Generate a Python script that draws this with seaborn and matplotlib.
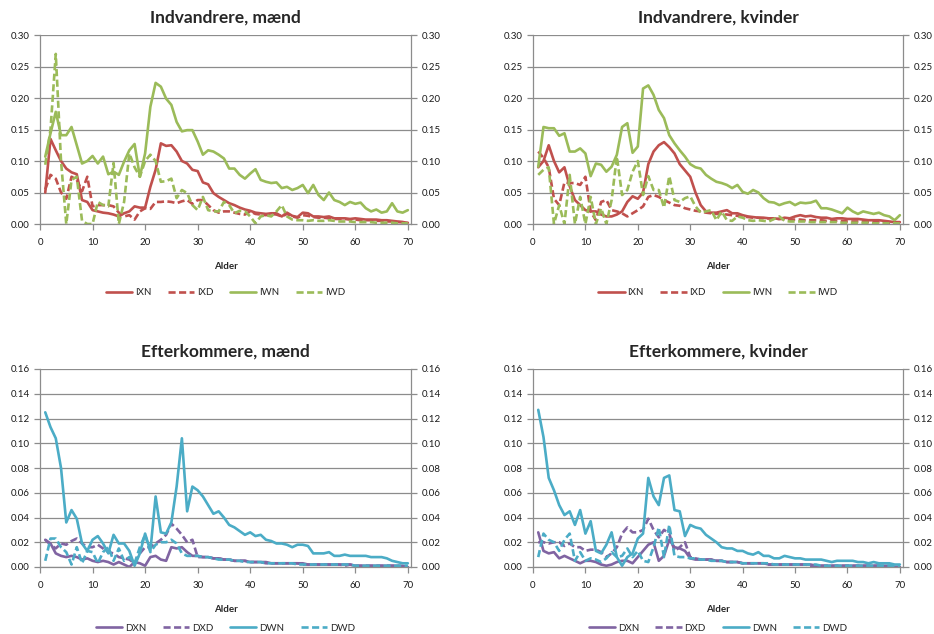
import numpy as np
import pandas as pd
import matplotlib
matplotlib.use("Agg")
import matplotlib.pyplot as plt
import seaborn as sns

# alder 1-70
ages = np.arange(1, 71)

# Indvandrere, maend
ixn_m = [0.050, 0.135, 0.117, 0.100, 0.088, 0.082, 0.079, 0.038, 0.035, 0.022,
         0.020, 0.018, 0.017, 0.015, 0.012, 0.017, 0.020, 0.028, 0.026, 0.026,
         0.059, 0.086, 0.128, 0.124, 0.125, 0.115, 0.100, 0.096, 0.086, 0.084,
         0.066, 0.063, 0.049, 0.043, 0.038, 0.033, 0.030, 0.026, 0.023, 0.021,
         0.018, 0.017, 0.016, 0.017, 0.017, 0.012, 0.018, 0.013, 0.011, 0.018,
         0.017, 0.012, 0.012, 0.011, 0.012, 0.009, 0.009, 0.009, 0.008, 0.009,
         0.008, 0.007, 0.007, 0.007, 0.006, 0.006, 0.005, 0.004, 0.003, 0.002]
ixd_m = [0.055, 0.078, 0.072, 0.050, 0.040, 0.075, 0.070, 0.052, 0.075, 0.028,
         0.030, 0.030, 0.030, 0.028, 0.018, 0.012, 0.014, 0.007, 0.020, 0.025,
         0.024, 0.035, 0.035, 0.036, 0.035, 0.033, 0.036, 0.038, 0.032, 0.038,
         0.038, 0.030, 0.022, 0.018, 0.020, 0.020, 0.018, 0.016, 0.015, 0.020,
         0.016, 0.015, 0.014, 0.016, 0.015, 0.012, 0.016, 0.012, 0.010, 0.014,
         0.013, 0.011, 0.010, 0.010, 0.009, 0.008, 0.008, 0.008, 0.007, 0.007,
         0.006, 0.006, 0.006, 0.005, 0.005, 0.004, 0.004, 0.003, 0.003, 0.002]
iwn_m = [0.107, 0.144, 0.178, 0.141, 0.141, 0.154, 0.125, 0.096, 0.100, 0.108,
         0.096, 0.107, 0.079, 0.083, 0.078, 0.099, 0.117, 0.127, 0.075, 0.112,
         0.186, 0.224, 0.218, 0.199, 0.189, 0.162, 0.147, 0.149, 0.149, 0.131,
         0.110, 0.117, 0.115, 0.110, 0.104, 0.088, 0.088, 0.078, 0.072, 0.080,
         0.087, 0.070, 0.067, 0.065, 0.066, 0.057, 0.059, 0.054, 0.057, 0.062,
         0.049, 0.062, 0.046, 0.038, 0.050, 0.038, 0.035, 0.030, 0.035, 0.032,
         0.034, 0.025, 0.020, 0.023, 0.018, 0.020, 0.033, 0.020, 0.018, 0.022]
iwd_m = [0.094, 0.150, 0.270, 0.100, 0.000, 0.070, 0.075, 0.005, 0.000, 0.000,
         0.035, 0.030, 0.028, 0.097, 0.000, 0.035, 0.112, 0.090, 0.075, 0.100,
         0.110, 0.100, 0.067, 0.068, 0.072, 0.041, 0.054, 0.049, 0.030, 0.022,
         0.043, 0.022, 0.020, 0.020, 0.035, 0.030, 0.017, 0.021, 0.020, 0.012,
         0.001, 0.012, 0.014, 0.012, 0.020, 0.030, 0.012, 0.007, 0.006, 0.006,
         0.005, 0.006, 0.005, 0.005, 0.006, 0.005, 0.004, 0.004, 0.004, 0.003,
         0.003, 0.003, 0.003, 0.002, 0.002, 0.002, 0.002, 0.001, 0.001, 0.001]

# Indvandrere, kvinder
ixn_k = [0.090, 0.100, 0.125, 0.100, 0.082, 0.090, 0.060, 0.038, 0.030, 0.022,
         0.020, 0.020, 0.015, 0.012, 0.012, 0.015, 0.020, 0.035, 0.044, 0.040,
         0.050, 0.095, 0.115, 0.125, 0.130, 0.122, 0.112, 0.095, 0.085, 0.075,
         0.050, 0.030, 0.020, 0.018, 0.018, 0.020, 0.022, 0.017, 0.017, 0.014,
         0.012, 0.011, 0.010, 0.010, 0.009, 0.009, 0.008, 0.010, 0.009, 0.012,
         0.014, 0.012, 0.013, 0.011, 0.010, 0.010, 0.008, 0.009, 0.009, 0.008,
         0.008, 0.008, 0.007, 0.006, 0.006, 0.006, 0.005, 0.004, 0.003, 0.003]
ixd_k = [0.115, 0.105, 0.090, 0.040, 0.030, 0.066, 0.065, 0.065, 0.062, 0.075,
         0.020, 0.006, 0.035, 0.038, 0.022, 0.020, 0.017, 0.012, 0.017, 0.022,
         0.028, 0.043, 0.046, 0.043, 0.038, 0.034, 0.030, 0.029, 0.025, 0.023,
         0.021, 0.020, 0.018, 0.017, 0.016, 0.016, 0.015, 0.014, 0.013, 0.012,
         0.011, 0.010, 0.010, 0.009, 0.009, 0.008, 0.008, 0.008, 0.007, 0.007,
         0.007, 0.006, 0.006, 0.006, 0.006, 0.005, 0.005, 0.005, 0.005, 0.004,
         0.004, 0.004, 0.004, 0.003, 0.003, 0.003, 0.003, 0.002, 0.002, 0.002]
iwn_k = [0.091, 0.154, 0.152, 0.152, 0.140, 0.144, 0.115, 0.115, 0.120, 0.112,
         0.076, 0.096, 0.094, 0.083, 0.091, 0.110, 0.154, 0.160, 0.113, 0.123,
         0.215, 0.220, 0.205, 0.181, 0.168, 0.141, 0.128, 0.117, 0.107, 0.095,
         0.090, 0.088, 0.078, 0.072, 0.067, 0.065, 0.062, 0.057, 0.062, 0.051,
         0.048, 0.054, 0.050, 0.041, 0.035, 0.034, 0.030, 0.033, 0.035, 0.030,
         0.034, 0.033, 0.034, 0.037, 0.025, 0.025, 0.023, 0.020, 0.017, 0.026,
         0.020, 0.016, 0.020, 0.018, 0.016, 0.018, 0.014, 0.012, 0.006, 0.014]
iwd_k = [0.078, 0.086, 0.090, 0.000, 0.030, 0.000, 0.078, 0.000, 0.043, 0.000,
         0.043, 0.000, 0.025, 0.000, 0.038, 0.107, 0.046, 0.054, 0.083, 0.100,
         0.046, 0.076, 0.054, 0.054, 0.026, 0.076, 0.038, 0.035, 0.041, 0.044,
         0.028, 0.018, 0.020, 0.022, 0.006, 0.020, 0.006, 0.005, 0.012, 0.010,
         0.006, 0.005, 0.006, 0.005, 0.004, 0.008, 0.012, 0.005, 0.004, 0.004,
         0.004, 0.004, 0.003, 0.003, 0.003, 0.003, 0.003, 0.003, 0.002, 0.002,
         0.002, 0.002, 0.002, 0.002, 0.001, 0.001, 0.001, 0.001, 0.001, 0.001]

# Efterkommere, maend
dxn_m = [0.022, 0.019, 0.011, 0.009, 0.008, 0.009, 0.008, 0.006, 0.007, 0.005,
         0.004, 0.005, 0.004, 0.002, 0.004, 0.002, 0.000, 0.004, 0.003, 0.001,
         0.008, 0.009, 0.006, 0.005, 0.016, 0.015, 0.016, 0.012, 0.009, 0.009,
         0.008, 0.008, 0.007, 0.007, 0.006, 0.006, 0.005, 0.005, 0.005, 0.004,
         0.004, 0.004, 0.004, 0.003, 0.003, 0.003, 0.003, 0.003, 0.003, 0.003,
         0.002, 0.002, 0.002, 0.002, 0.002, 0.002, 0.002, 0.002, 0.002, 0.001,
         0.001, 0.001, 0.001, 0.001, 0.001, 0.001, 0.001, 0.001, 0.001, 0.000]
dxd_m = [0.022, 0.018, 0.015, 0.019, 0.018, 0.021, 0.023, 0.019, 0.016, 0.016,
         0.018, 0.015, 0.012, 0.011, 0.008, 0.007, 0.006, 0.003, 0.011, 0.016,
         0.016, 0.019, 0.022, 0.026, 0.035, 0.031, 0.026, 0.020, 0.022, 0.008,
         0.008, 0.008, 0.007, 0.007, 0.006, 0.006, 0.005, 0.005, 0.005, 0.004,
         0.004, 0.004, 0.003, 0.003, 0.003, 0.003, 0.003, 0.003, 0.003, 0.002,
         0.002, 0.002, 0.002, 0.002, 0.002, 0.002, 0.002, 0.001, 0.002, 0.001,
         0.001, 0.001, 0.001, 0.001, 0.001, 0.001, 0.001, 0.001, 0.000, 0.000]
dwn_m = [0.125, 0.113, 0.104, 0.080, 0.036, 0.046, 0.039, 0.019, 0.013, 0.022,
         0.025, 0.019, 0.011, 0.026, 0.019, 0.019, 0.013, 0.001, 0.011, 0.027,
         0.013, 0.057, 0.028, 0.027, 0.036, 0.065, 0.104, 0.045, 0.065, 0.062,
         0.057, 0.050, 0.043, 0.045, 0.040, 0.034, 0.032, 0.029, 0.026, 0.028,
         0.025, 0.026, 0.022, 0.021, 0.019, 0.019, 0.018, 0.016, 0.018, 0.018,
         0.017, 0.011, 0.011, 0.011, 0.012, 0.009, 0.009, 0.010, 0.009, 0.009,
         0.009, 0.009, 0.008, 0.008, 0.008, 0.007, 0.005, 0.004, 0.003, 0.003]
dwd_m = [0.005, 0.023, 0.023, 0.016, 0.012, 0.002, 0.016, 0.003, 0.013, 0.012,
         0.003, 0.012, 0.016, 0.005, 0.015, 0.005, 0.008, 0.003, 0.016, 0.026,
         0.012, 0.018, 0.020, 0.020, 0.022, 0.019, 0.011, 0.009, 0.009, 0.009,
         0.008, 0.008, 0.007, 0.006, 0.006, 0.006, 0.005, 0.005, 0.004, 0.004,
         0.004, 0.004, 0.003, 0.003, 0.003, 0.003, 0.003, 0.003, 0.002, 0.002,
         0.002, 0.002, 0.002, 0.002, 0.002, 0.002, 0.002, 0.002, 0.002, 0.001,
         0.001, 0.001, 0.001, 0.001, 0.001, 0.001, 0.001, 0.001, 0.001, 0.001]

# Efterkommere, kvinder
dxn_k = [0.028, 0.013, 0.011, 0.012, 0.007, 0.009, 0.007, 0.005, 0.003, 0.005,
         0.005, 0.004, 0.002, 0.001, 0.002, 0.004, 0.005, 0.005, 0.003, 0.008,
         0.013, 0.018, 0.020, 0.005, 0.009, 0.022, 0.016, 0.015, 0.013, 0.007,
         0.006, 0.006, 0.006, 0.006, 0.005, 0.005, 0.004, 0.004, 0.004, 0.003,
         0.003, 0.003, 0.003, 0.003, 0.002, 0.002, 0.002, 0.002, 0.002, 0.002,
         0.002, 0.002, 0.002, 0.001, 0.001, 0.001, 0.001, 0.001, 0.001, 0.001,
         0.001, 0.001, 0.001, 0.001, 0.001, 0.001, 0.001, 0.001, 0.000, 0.000]
dxd_k = [0.020, 0.020, 0.019, 0.020, 0.020, 0.017, 0.019, 0.016, 0.016, 0.013,
         0.014, 0.014, 0.012, 0.008, 0.011, 0.016, 0.027, 0.032, 0.028, 0.028,
         0.030, 0.039, 0.030, 0.024, 0.030, 0.027, 0.013, 0.016, 0.020, 0.008,
         0.007, 0.006, 0.006, 0.006, 0.005, 0.005, 0.004, 0.004, 0.004, 0.003,
         0.003, 0.003, 0.003, 0.003, 0.002, 0.002, 0.002, 0.002, 0.002, 0.002,
         0.002, 0.002, 0.001, 0.001, 0.001, 0.001, 0.001, 0.001, 0.001, 0.001,
         0.001, 0.001, 0.001, 0.001, 0.001, 0.001, 0.000, 0.000, 0.000, 0.000]
dwn_k = [0.127, 0.105, 0.072, 0.062, 0.050, 0.042, 0.045, 0.034, 0.046, 0.027,
         0.037, 0.013, 0.011, 0.018, 0.028, 0.008, 0.001, 0.008, 0.011, 0.023,
         0.027, 0.072, 0.057, 0.050, 0.072, 0.074, 0.046, 0.045, 0.025, 0.034,
         0.032, 0.031, 0.026, 0.023, 0.020, 0.016, 0.015, 0.015, 0.013, 0.013,
         0.011, 0.010, 0.012, 0.009, 0.009, 0.007, 0.007, 0.009, 0.008, 0.007,
         0.007, 0.006, 0.006, 0.006, 0.006, 0.005, 0.004, 0.005, 0.005, 0.005,
         0.005, 0.004, 0.004, 0.003, 0.004, 0.003, 0.003, 0.003, 0.002, 0.002]
dwd_k = [0.008, 0.027, 0.022, 0.020, 0.013, 0.022, 0.027, 0.005, 0.012, 0.005,
         0.007, 0.006, 0.004, 0.007, 0.012, 0.008, 0.009, 0.015, 0.008, 0.013,
         0.005, 0.004, 0.016, 0.032, 0.008, 0.034, 0.009, 0.008, 0.008, 0.007,
         0.007, 0.006, 0.006, 0.005, 0.005, 0.005, 0.004, 0.004, 0.004, 0.003,
         0.003, 0.003, 0.003, 0.003, 0.003, 0.002, 0.002, 0.002, 0.002, 0.002,
         0.002, 0.002, 0.002, 0.002, 0.001, 0.001, 0.001, 0.001, 0.001, 0.001,
         0.001, 0.001, 0.001, 0.001, 0.001, 0.001, 0.001, 0.001, 0.001, 0.001]

titles = ["Indvandrere, mænd", "Indvandrere, kvinder",
          "Efterkommere, mænd", "Efterkommere, kvinder"]
names_top = ["IXN", "IXD", "IWN", "IWD"]
names_bot = ["DXN", "DXD", "DWN", "DWD"]

red = "#C0504D"
green = "#9BBB59"
purple = "#8064A2"
teal = "#4BACC6"
dash = (2.7, 1.3)

sns.set_style("white")
plt.rcParams["font.family"] = ["Lato", "DejaVu Sans"]

fig = plt.figure(figsize=(9.34, 6.34), dpi=100)

W, H = 934, 634


def box(l, r, t, b):
    return [l / W, 1 - b / H, (r - l) / W, (b - t) / H]


panels = [
    (box(40, 411, 35, 224), titles[0], names_top, [ixn_m, ixd_m, iwn_m, iwd_m], [red, red, green, green], 0.30, 0.05),
    (box(533, 903, 35, 224), titles[1], names_top, [ixn_k, ixd_k, iwn_k, iwd_k], [red, red, green, green], 0.30, 0.05),
    (box(40, 411, 369, 567), titles[2], names_bot, [dxn_m, dxd_m, dwn_m, dwd_m], [purple, purple, teal, teal], 0.16, 0.02),
    (box(533, 903, 369, 567), titles[3], names_bot, [dxn_k, dxd_k, dwn_k, dwd_k], [purple, purple, teal, teal], 0.16, 0.02),
]

grid_col = "#8c8c8c"

for i, (pos, title, names, series, cols, ymax, ystep) in enumerate(panels):
    ax = fig.add_axes(pos)
    df = pd.DataFrame({
        "Alder": np.tile(ages, 4),
        "andel": np.concatenate(series),
        "serie": np.repeat(names, len(ages)),
    })
    pal = dict(zip(names, cols))
    dsh = {names[0]: "", names[1]: dash, names[2]: "", names[3]: dash}
    sns.lineplot(data=df, x="Alder", y="andel", hue="serie", style="serie",
                 palette=pal, dashes=dsh, linewidth=1.9, errorbar=None,
                 legend=False, ax=ax)

    ax.set_xlim(0, 70.6)
    ax.set_ylim(0, ymax)
    ax.set_xticks(np.arange(0, 71, 10))
    ax.set_yticks(np.arange(0, ymax + ystep / 2, ystep))
    ax.yaxis.set_major_formatter(plt.FormatStrFormatter("%.2f"))
    ax.grid(axis="y", color=grid_col, linewidth=0.9)
    ax.set_axisbelow(True)
    for s in ["left", "right", "bottom"]:
        ax.spines[s].set_color(grid_col)
        ax.spines[s].set_linewidth(0.9)
    ax.spines["top"].set_visible(False)
    ax.tick_params(axis="both", which="major", direction="out", length=4,
                   width=0.9, color=grid_col, labelsize=7, labelcolor="#1a1a1a",
                   left=True, right=True, labelright=True, bottom=True)
    ax.tick_params(axis="x", pad=6)
    ax.set_ylabel("")
    ax.set_xlabel("Alder", fontsize=7, fontweight="bold", labelpad=11)
    ax.set_title(title, fontsize=12.5, fontweight="bold", pad=9)

    handles = ax.get_lines()[:4]
    ax.legend(handles, names, loc="center", bbox_to_anchor=(0.5, -0.365 if i < 2 else -0.31),
              ncol=4, frameon=False, fontsize=7, handlelength=2.7,
              handletextpad=0.3, columnspacing=1.7)

fig.savefig("out.png", dpi=100)
